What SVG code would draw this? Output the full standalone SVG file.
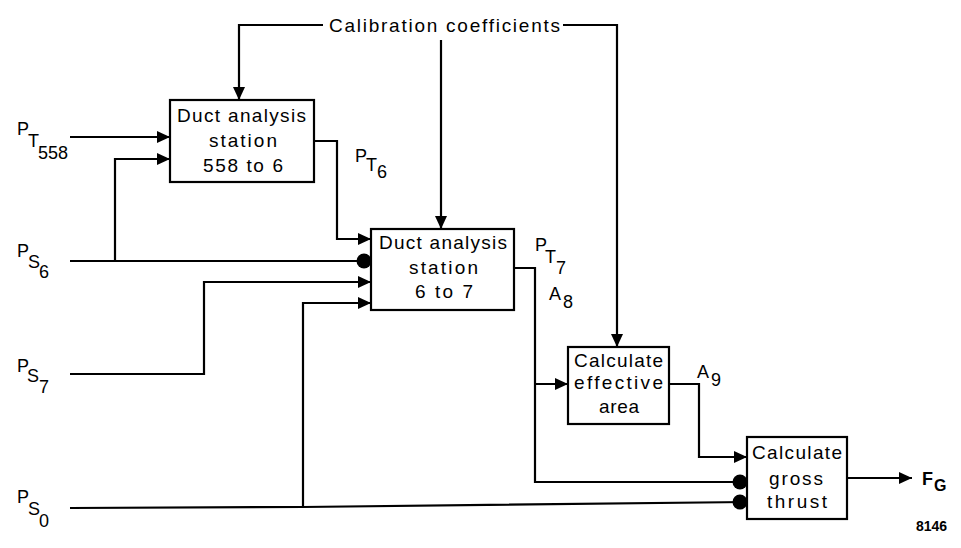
<svg xmlns="http://www.w3.org/2000/svg" width="961" height="548" viewBox="0 0 961 548">
<style>
.box{fill:#fff;stroke:#000;stroke-width:2.2}
.ln{fill:none;stroke:#000;stroke-width:2.2}
.arr{marker-end:url(#ah)}
.dot{marker-end:url(#dt)}
.bt{font-family:"Liberation Sans",Arial,sans-serif;font-size:19px;fill:#000}
.lb{font-family:"Liberation Sans",Arial,sans-serif;font-size:18px;fill:#000}
.bold{font-weight:bold}
</style>
<defs>
<marker id="ah" viewBox="0 0 13 12" refX="13" refY="6" markerWidth="13" markerHeight="12" markerUnits="userSpaceOnUse" orient="auto">
<path d="M0,0 L13,6 L0,12 z" fill="#000"/>
</marker>
<marker id="dt" viewBox="0 0 16 16" refX="15" refY="8" markerWidth="16" markerHeight="16" markerUnits="userSpaceOnUse" orient="auto">
<circle cx="8" cy="8" r="7.5" fill="#000"/>
</marker>
</defs>
<rect width="961" height="548" fill="#fff"/>
<g id="connectors">
<path class="ln arr" d="M323 25 H239 V100"/>
<path class="ln arr" d="M441 40 V229"/>
<path class="ln arr" d="M563 25 H617 V347"/>
<path class="ln arr" d="M70 137 H170"/>
<path class="ln arr" d="M115 261 V159 H170"/>
<path class="ln dot" d="M70 261 H371"/>
<path class="ln arr" d="M314 141 H337 V239 H371"/>
<path class="ln arr" d="M70 374 H204 V282 H371"/>
<path class="ln dot" d="M70 508 L303 507 L747 502"/>
<path class="ln arr" d="M303 507 V303 H371"/>
<path class="ln dot" d="M514 268 H535 V482 H747"/>
<path class="ln arr" d="M535 384 H568"/>
<path class="ln arr" d="M669 384 H699 V457 H747"/>
<path class="ln arr" d="M847 478 H912"/>
</g>
<g id="calibration">
<text class="bt" x="329" y="32" textLength="231" lengthAdjust="spacing">Calibration coefficients</text>
</g>
<g id="duct1">
<rect class="box" x="170" y="100" width="144" height="82"/>
<text class="bt" x="177" y="122" textLength="129" lengthAdjust="spacing">Duct analysis</text>
<text class="bt" x="209" y="147" textLength="68" lengthAdjust="spacing">station</text>
<text class="bt" x="203" y="172" textLength="80" lengthAdjust="spacing">558 to 6</text>
</g>
<g id="duct2">
<rect class="box" x="371" y="229" width="143" height="81"/>
<text class="bt" x="379" y="249" textLength="128" lengthAdjust="spacing">Duct analysis</text>
<text class="bt" x="409" y="274" textLength="69" lengthAdjust="spacing">station</text>
<text class="bt" x="415" y="298" textLength="58" lengthAdjust="spacing">6 to 7</text>
</g>
<g id="area">
<rect class="box" x="568" y="347" width="101" height="77"/>
<text class="bt" x="574" y="367" textLength="89" lengthAdjust="spacing">Calculate</text>
<text class="bt" x="574" y="389" textLength="89" lengthAdjust="spacing">effective</text>
<text class="bt" x="599" y="413" textLength="40" lengthAdjust="spacing">area</text>
</g>
<g id="thrust">
<rect class="box" x="747" y="437" width="100" height="82"/>
<text class="bt" x="752" y="459" textLength="90" lengthAdjust="spacing">Calculate</text>
<text class="bt" x="769" y="485" textLength="54" lengthAdjust="spacing">gross</text>
<text class="bt" x="767" y="508" textLength="60" lengthAdjust="spacing">thrust</text>
</g>
<g id="labels">
<text class="lb" x="17" y="135">P</text><text class="lb" x="28" y="147">T</text><text class="lb" x="38" y="159">558</text>
<text class="lb" x="17" y="257">P</text><text class="lb" x="28" y="268">S</text><text class="lb" x="39" y="278">6</text>
<text class="lb" x="17" y="372">P</text><text class="lb" x="27" y="382">S</text><text class="lb" x="39" y="393">7</text>
<text class="lb" x="17" y="503">P</text><text class="lb" x="28" y="515">S</text><text class="lb" x="39" y="527">0</text>
<text class="lb" x="355" y="162">P</text><text class="lb" x="366" y="171">T</text><text class="lb" x="377" y="178">6</text>
<text class="lb" x="535" y="251">P</text><text class="lb" x="545" y="263">T</text><text class="lb" x="556" y="274">7</text>
<text class="lb" x="549" y="300">A</text><text class="lb" x="563" y="308">8</text>
<text class="lb" x="697" y="378">A</text><text class="lb" x="711" y="386">9</text>
<text class="lb bold" x="922" y="485">F</text><text class="lb bold" x="934" y="491" style="font-size:16px">G</text>
<text class="lb bold" x="916" y="531" style="font-size:14px">8146</text>
</g>
</svg>
